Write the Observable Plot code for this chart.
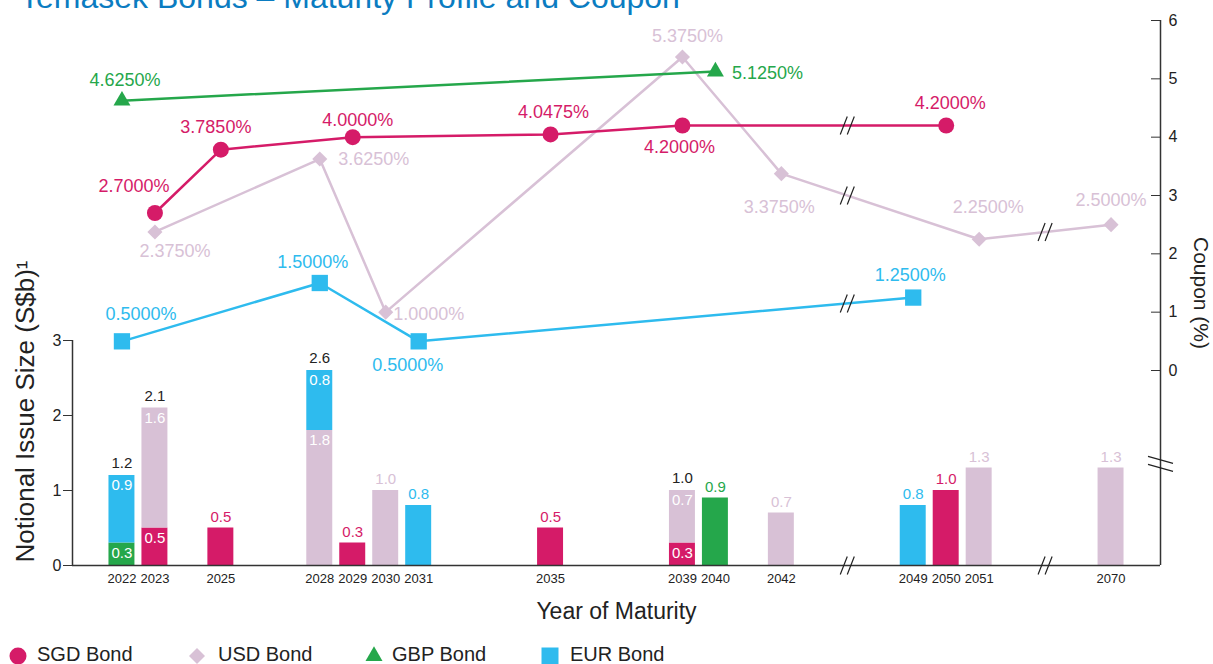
<!DOCTYPE html>
<html>
<head>
<meta charset="utf-8">
<script src="https://cdn.jsdelivr.net/npm/d3@7"></script>
<script src="https://cdn.jsdelivr.net/npm/@observablehq/plot@0.6"></script>
<style>
  html, body { margin: 0; padding: 0; background: #fff; overflow: hidden; }
  #wrap { position: relative; width: 1213px; height: 664px; overflow: hidden;
          font-family: "Liberation Sans", Arial, Helvetica, sans-serif; }
  #title { position: absolute; left: 20px; top: -21px; font-size: 32px; line-height: 36px;
           color: #0b7cc1; white-space: nowrap; }
  .leg-sym { position: absolute; width: 24px; height: 24px; overflow: visible; }
  .leg-txt { position: absolute; font-size: 20px; line-height: 20px; color: #222; white-space: nowrap; }
</style>
</head>
<body>
<div id="wrap">
  <div id="title">Temasek Bonds – Maturity Profile and Coupon</div>
</div>
<script>
// ---------------- data ----------------
const seriesKeys   = ["SGD", "USD", "GBP", "EUR"];
const seriesLabels = ["SGD Bond", "USD Bond", "GBP Bond", "EUR Bond"];
const seriesColors = ["#d51b68", "#d8c1d6", "#25a74b", "#2ebbee"];

const sgdYears  = [2023, 2025, 2029, 2035, 2039, 2050];
const sgdIssue  = [0.5, 0.5, 0.3, 0.5, 0.3, 1.0];
const sgdCoupon = [2.7, 3.785, 4.0, 4.0475, 4.2, 4.2];

const usdYears  = [2023, 2028, 2030, 2039, 2042, 2051, 2070];
const usdIssue  = [1.6, 1.8, 1.0, 0.7, 0.7, 1.3, 1.3];
const usdCoupon = [2.375, 3.625, 1.0, 5.375, 3.375, 2.25, 2.5];

const gbpYears  = [2022, 2040];
const gbpIssue  = [0.3, 0.9];
const gbpCoupon = [4.625, 5.125];

const eurYears  = [2022, 2028, 2031, 2049];
const eurIssue  = [0.9, 0.8, 0.8, 0.8];
const eurCoupon = [0.5, 1.5, 0.5, 1.25];

const issueTicks  = [0, 1, 2, 3];
const couponTicks = [0, 1, 2, 3, 4, 5, 6];

const yTitle = "Notional Issue Size (S$b)¹";
const xTitle = "Year of Maturity";
const rTitle = "Coupon (%)";

// ---------------- layout / style ----------------
const FONT = '"Liberation Sans", Arial, Helvetica, sans-serif';
const W = 1213, H = 664;
const X_DOMAIN = [2020.5, 2053.5];          // compressed year slots
const stackOrder = ["SGD", "GBP", "USD", "EUR"];
const drawOrder  = ["USD", "SGD", "GBP", "EUR"];
const symbols = {SGD: "circle", USD: "diamond2", GBP: "triangle", EUR: "square"};
const symbolR = {SGD: 8, USD: 6.8, GBP: 6.3, EUR: 9.2};
const couponAxisBreak = -1.6;               // where the right axis is broken
const labelNudge = {
  SGD2023: [-21, -27], SGD2025: [-5, -22], SGD2029: [5, -17], SGD2035: [3, -22], SGD2039: [-3, 22], SGD2050: [4, -22],
  USD2023: [20, 19], USD2028: [54, 0], USD2030: [43, 2], USD2039: [5, -21], USD2042: [-2, 34], USD2051: [9, -32], USD2070: [0, -24],
  GBP2022: [3, -20], GBP2040: [52, 2],
  EUR2022: [19, -27], EUR2028: [-7, -21], EUR2031: [-11, 24], EUR2049: [-3, -22]
};

// axis break: 2042 -> 2049 and 2051 -> 2070 are compressed
function slot(year) { return year <= 2042 ? year : year <= 2051 ? year - 3 : year - 18; }

const bySeries = {
  SGD: [sgdYears, sgdIssue, sgdCoupon],
  USD: [usdYears, usdIssue, usdCoupon],
  GBP: [gbpYears, gbpIssue, gbpCoupon],
  EUR: [eurYears, eurIssue, eurCoupon]
};
const bondsOf = s => bySeries[s][0].map((year, i) => ({series: s, year, issue: bySeries[s][1][i], coupon: bySeries[s][2][i]}));
const allBonds = seriesKeys.flatMap(bondsOf);

const years = Array.from(new Set(allBonds.map(d => d.year))).sort(d3.ascending);
const tickSlots = years.map(slot);
const slotYear = new Map(years.map(y => [slot(y), y]));
const gapBreaks = [[2042, 2049], [2051, 2070]].map(([a, b]) => (slot(a) + slot(b)) / 2);

const barData = stackOrder.flatMap(bondsOf).sort((a, b) => a.year - b.year);
const countByYear = d3.rollup(barData, v => v.length, d => d.year);
const stackedSegs = barData.filter(d => countByYear.get(d.year) > 1);
const singles = barData.filter(d => countByYear.get(d.year) === 1);
const totals = d3.rollups(stackedSegs, v => d3.sum(v, d => d.issue), d => d.year).map(([year, total]) => ({year, total}));

const color = {domain: seriesKeys, range: seriesColors};
const xs = d => slot(d.year);
const fmt1 = d3.format(".1f");
const fmtInt = d3.format("d");
const pct = v => d3.format(".4f")(v) + "%";

// custom break symbols
const slashPair = {
  draw(ctx, size) {
    const r = Math.sqrt(size / Math.PI), w = r * 0.39;
    for (const o of [-w, w]) { ctx.moveTo(o - w, r); ctx.lineTo(o + w, -r); }
  }
};
const flatPair = {
  draw(ctx, size) {
    const r = Math.sqrt(size / Math.PI), h = r * 0.28, g = r * 0.32;
    for (const o of [-g, g]) { ctx.moveTo(-r, o - h); ctx.lineTo(r, o + h); }
  }
};

// break marks on coupon lines
const lineBreaks = [];
for (const s of seriesKeys) {
  const pts = bondsOf(s);
  for (const b of gapBreaks) {
    for (let i = 0; i < pts.length - 1; i++) {
      const x0 = slot(pts[i].year), x1 = slot(pts[i + 1].year);
      if (x0 < b && b < x1) {
        const t = (b - x0) / (x1 - x0);
        lineBreaks.push({x: b, y: pts[i].coupon + t * (pts[i + 1].coupon - pts[i].coupon)});
      }
    }
  }
}

const baseStyle = {position: "absolute", left: "0px", top: "0px", background: "transparent",
                   fontFamily: FONT, fontSize: "15px", color: "#333", overflow: "visible"};

// ---------------- bars (issue size) ----------------
const barsPlot = Plot.plot({
  width: W, height: H,
  marginLeft: 72, marginRight: 53, marginTop: 340, marginBottom: 99,
  x: {type: "linear", domain: X_DOMAIN, axis: null},
  y: {domain: [0, 3], axis: null},
  color,
  style: baseStyle,
  marks: [
    Plot.rectY(barData, {x1: d => slot(d.year) - 0.5, x2: d => slot(d.year) + 0.5, y: "issue", fill: "series",
                         insetLeft: 3.5, insetRight: 3.5}),
    Plot.text(stackedSegs, Plot.stackY2({x: xs, y: "issue", z: "series", text: d => fmt1(d.issue),
                                         fill: "white", dy: 10, fontSize: 15})),
    Plot.text(totals, {x: xs, y: "total", text: d => fmt1(d.total), fill: "#222", dy: -12, fontSize: 15}),
    Plot.text(singles, {x: xs, y: "issue", text: d => fmt1(d.issue), fill: "series", dy: -11, fontSize: 15}),
    Plot.ruleY([0], {stroke: "#333", strokeWidth: 1.5}),
    Plot.ruleX([X_DOMAIN[0]], {stroke: "#333", strokeWidth: 1.5}),
    Plot.axisY({ticks: issueTicks, tickFormat: fmtInt, tickSize: 9, tickPadding: 2, fontSize: 16, label: null, fill: "#222"}),
    Plot.axisX({ticks: tickSlots, tickFormat: s => String(slotYear.get(s)), tickSize: 0, tickPadding: 8,
                fontSize: 13, label: null, fill: "#222"}),
    Plot.dot(gapBreaks, {x: d => d, y: 0, symbol: slashPair, r: 9, stroke: "#222", strokeWidth: 1.2, fill: "none"}),
    Plot.text([yTitle], {text: d => d, frameAnchor: "bottom-left", rotate: -90, textAnchor: "start", lineAnchor: "middle",
                         dx: -47, dy: -3, fontSize: 26, fill: "#222"}),
    Plot.text([xTitle], {text: d => d, frameAnchor: "bottom", lineAnchor: "middle", textAnchor: "middle",
                         dy: 46, fontSize: 23, fill: "#222"})
  ]
});

// ---------------- lines (coupon) ----------------
const lineMarks = [];
for (const s of drawOrder) {
  lineMarks.push(Plot.line(bondsOf(s), {x: xs, y: "coupon", stroke: "series", strokeWidth: 2.5}));
}
for (const s of drawOrder) {
  lineMarks.push(Plot.dot(bondsOf(s), {x: xs, y: "coupon", fill: "series", symbol: symbols[s], r: symbolR[s], stroke: "none"}));
}
const labelMarks = allBonds.map(d => {
  const [dx, dy] = labelNudge[d.series + d.year] || [0, -22];
  return Plot.text([d], {x: xs, y: "coupon", text: e => pct(e.coupon), fill: "series", dx, dy, fontSize: 18});
});

const couponPlot = Plot.plot({
  width: W, height: H,
  marginLeft: 72, marginRight: 53, marginTop: 20, marginBottom: 99,
  x: {type: "linear", domain: X_DOMAIN, axis: null},
  y: {domain: [0, 6], range: [370, 20], axis: null},
  color,
  style: baseStyle,
  marks: [
    Plot.ruleX([X_DOMAIN[1]], {stroke: "#333", strokeWidth: 1.5}),
    Plot.axisY({anchor: "right", ticks: couponTicks, tickSize: 10, dx: -10, tickFormat: () => "", label: null}),
    Plot.axisY({anchor: "right", ticks: couponTicks, tickFormat: fmtInt, tickSize: 0, tickPadding: 8, fontSize: 16,
                label: null, fill: "#222"}),
    Plot.dot([couponAxisBreak], {x: X_DOMAIN[1], y: d => d, symbol: flatPair, r: 12.5, stroke: "#222", strokeWidth: 1.2, fill: "none"}),
    ...lineMarks,
    Plot.dot(lineBreaks, {x: "x", y: "y", symbol: slashPair, r: 9, stroke: "#222", strokeWidth: 1.2, fill: "none"}),
    ...labelMarks,
    Plot.text([rTitle], {text: d => d, frameAnchor: "right", textAnchor: "middle", lineAnchor: "middle",
                         dx: 40, rotate: 90, fontSize: 21, fill: "#222"})
  ]
});

const wrap = document.getElementById("wrap");
wrap.appendChild(barsPlot);
wrap.appendChild(couponPlot);

// ---------------- legend ----------------
const legendSymbols = [d3.symbolCircle, d3.symbolDiamond2, d3.symbolTriangle, d3.symbolSquare];
const legendSizes = [227, 163, 125, 289];
const legendSymX = [18, 197, 374, 550];
const legendTxtX = [37, 218, 392, 570];
const legendY = 656;
seriesKeys.forEach((s, i) => {
  const svg = d3.select(wrap).append("svg").attr("class", "leg-sym")
    .style("left", (legendSymX[i] - 12) + "px").style("top", (legendY - 12) + "px");
  svg.append("path").attr("transform", "translate(12,12)")
    .attr("d", d3.symbol(legendSymbols[i], legendSizes[i])()).attr("fill", seriesColors[i]);
  d3.select(wrap).append("div").attr("class", "leg-txt")
    .style("left", legendTxtX[i] + "px").style("top", "644px").text(seriesLabels[i]);
});
</script>
</body>
</html>
